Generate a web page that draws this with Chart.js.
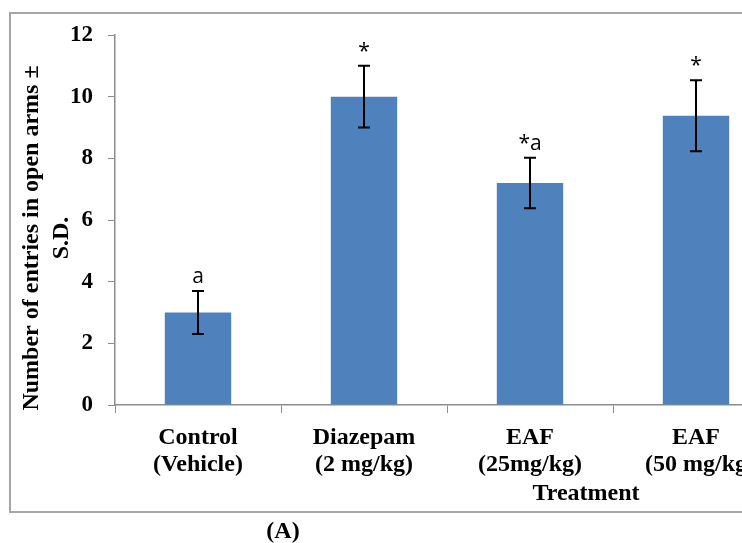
<!DOCTYPE html>
<html>
<head>
<meta charset="utf-8">
<script src="https://cdn.jsdelivr.net/npm/chart.js@4.4.1/dist/chart.umd.min.js"></script>
<style>
  html, body { margin: 0; padding: 0; background: #fff; overflow: hidden; }
  #wrap { position: relative; width: 742px; height: 543px; overflow: hidden; }
  #chart { position: absolute; left: 0; top: 0; }
  #panel { position: absolute; left: 283px; top: 530px; transform: translate(-50%, -50%);
           font: bold 24px "Liberation Serif", "Times New Roman", serif; color: #000; }
</style>
</head>
<body>
<div id="wrap">
  <canvas id="chart" width="800" height="543"></canvas>
  <div id="panel">(A)</div>
</div>
<script>
// values
const categories = [['Control', '(Vehicle)'], ['Diazepam', '(2 mg/kg)'], ['EAF', '(25mg/kg)'], ['EAF', '(50 mg/kg']];
const means = [3.0, 10.0, 7.2, 9.38];
const sds = [0.7, 1.0, 0.82, 1.15];
const marks = ['a', '*', '*a', '*'];
const yTicks = [0, 2, 4, 6, 8, 10, 12];
const yTitle = ['Number of entries in open arms \u00b1', 'S.D.'];
const xTitle = 'Treatment';

const serif = '"Liberation Serif", "Times New Roman", serif';
const axisGrey = '#8c8c8c';

const extras = {
    id: 'extras',
    afterDatasetsDraw(chart) {
        const ctx = chart.ctx;
        const x = chart.scales.x, y = chart.scales.y;
        ctx.save();
        // error bars
        ctx.strokeStyle = '#000';
        ctx.lineWidth = 2;
        means.forEach((m, i) => {
            const px = x.getPixelForValue(i);
            const top = y.getPixelForValue(m + sds[i]);
            const bot = y.getPixelForValue(m - sds[i]);
            ctx.beginPath();
            ctx.moveTo(px, top); ctx.lineTo(px, bot);
            ctx.moveTo(px - 6, top); ctx.lineTo(px + 6, top);
            ctx.moveTo(px - 6, bot); ctx.lineTo(px + 6, bot);
            ctx.stroke();
        });
        // significance letters
        ctx.fillStyle = '#000';
        ctx.font = '21px "Open Sans", "Liberation Sans", sans-serif';
        ctx.textAlign = 'center';
        ctx.textBaseline = 'alphabetic';
        marks.forEach((t, i) => {
            const px = x.getPixelForValue(i);
            const top = y.getPixelForValue(means[i] + sds[i]);
            ctx.fillText(t, px, top - 8);
        });
        // axis titles
        ctx.font = 'bold 24px ' + serif;
        ctx.textBaseline = 'middle';
        ctx.fillText(xTitle, 586, 494);
        ctx.save();
        ctx.translate(32, 238);
        ctx.rotate(-Math.PI / 2);
        ctx.fillText(yTitle[0], 0, 0);
        ctx.fillText(yTitle[1], 0, 30);
        ctx.restore();
        // outer frame
        ctx.strokeStyle = '#a6a6a6';
        ctx.lineWidth = 2;
        ctx.strokeRect(10, 13, 785, 499);
        ctx.restore();
    }
};

new Chart(document.getElementById('chart'), {
    type: 'bar',
    data: {
        labels: categories,
        datasets: [{
            data: means,
            backgroundColor: '#4f81bd',
            barPercentage: 0.4,
            categoryPercentage: 1.0
        }]
    },
    options: {
        responsive: false,
        animation: false,
        layout: { padding: { left: 0, top: 35, right: 21, bottom: 0 } },
        plugins: { legend: { display: false }, tooltip: { enabled: false } },
        scales: {
            x: {
                afterFit: s => { s.height = 138; },
                border: { color: axisGrey, width: 1.5 },
                grid: { drawOnChartArea: false, color: axisGrey, tickLength: 8, offset: true },
                ticks: { color: '#000', padding: 11, font: { family: serif, size: 24, weight: 'bold', lineHeight: 1.12 } }
            },
            y: {
                min: 0,
                max: 12,
                afterFit: s => { s.width = 115; },
                afterBuildTicks: s => { s.ticks = yTicks.map(v => ({ value: v })); },
                border: { color: axisGrey, width: 1.5 },
                grid: { drawOnChartArea: false, color: axisGrey, tickLength: 7 },
                ticks: { color: '#000', padding: 15, font: { family: serif, size: 23, weight: 'bold' } }
            }
        }
    },
    plugins: [extras]
});
</script>
</body>
</html>
